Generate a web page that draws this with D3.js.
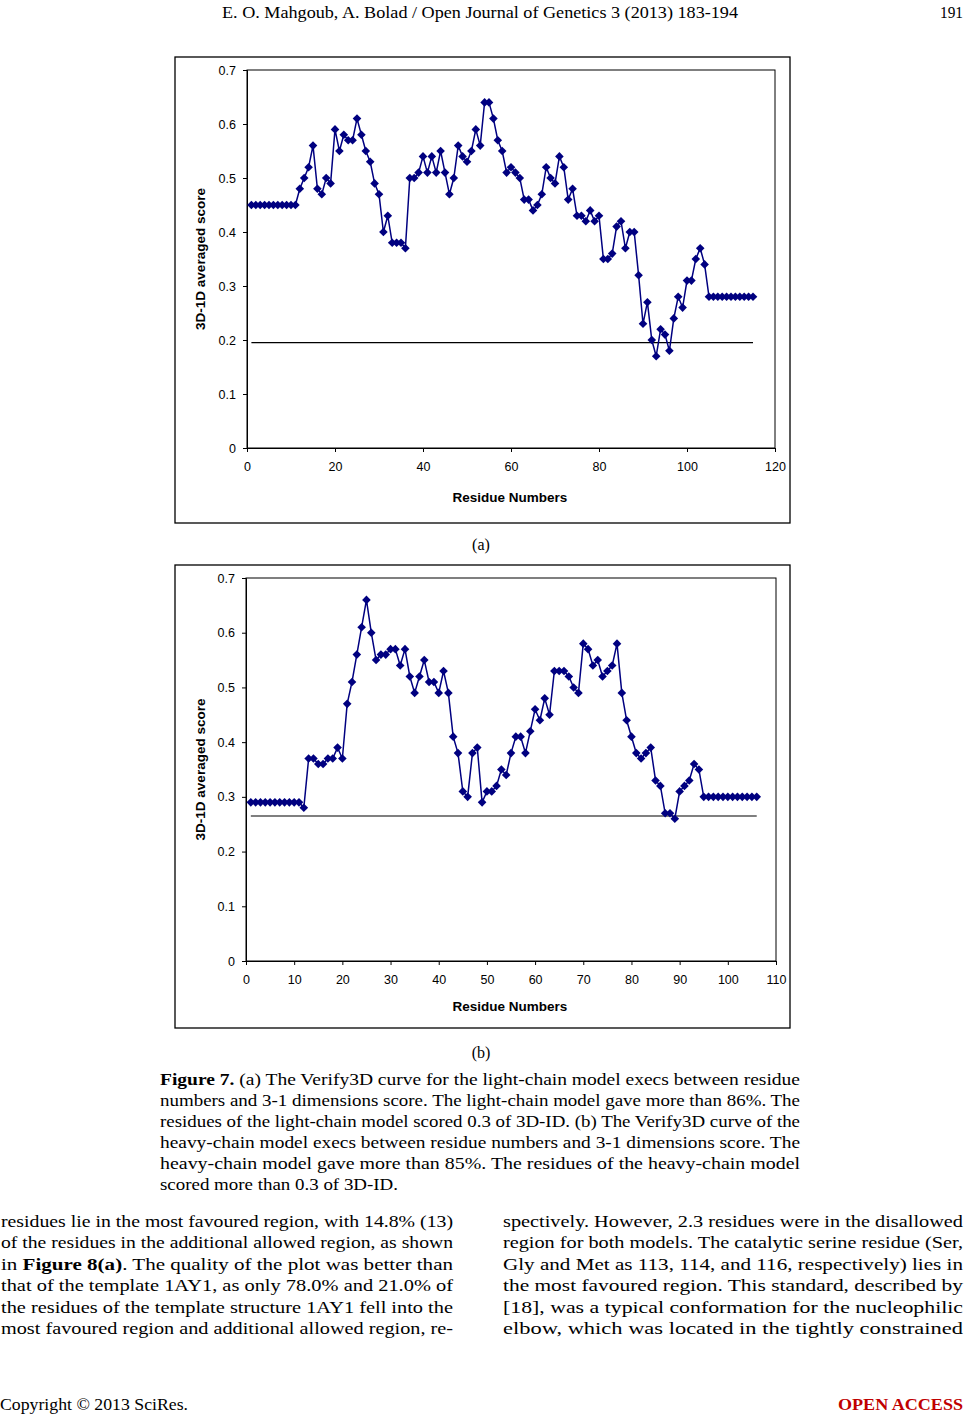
<!DOCTYPE html>
<html>
<head>
<meta charset="utf-8">
<script src="https://cdn.jsdelivr.net/npm/d3@7"></script>
<style>
  html, body { margin: 0; padding: 0; background: #fff; }
  svg { display: block; }
</style>
</head>
<body>
<script>
// ---------- DATA ----------
const scoresA = [
  0.45,0.45,0.45,0.45,0.45,0.45,0.45,0.45,0.45,0.45,0.45,
  0.48,0.50,0.52,0.56,0.48,0.47,0.50,0.49,0.59,
  0.55,0.58,0.57,0.57,0.61,0.58,0.55,0.53,0.49,0.47,
  0.40,0.43,0.38,0.38,0.38,0.37,0.50,0.50,0.51,0.54,
  0.51,0.54,0.51,0.55,0.51,0.47,0.50,0.56,0.54,0.53,
  0.55,0.59,0.56,0.64,0.64,0.61,0.57,0.55,0.51,0.52,
  0.51,0.50,0.46,0.46,0.44,0.45,0.47,0.52,0.50,0.49,
  0.54,0.52,0.46,0.48,0.43,0.43,0.42,0.44,0.42,0.43,
  0.35,0.35,0.36,0.41,0.42,0.37,0.40,0.40,0.32,0.23,
  0.27,0.20,0.17,0.22,0.21,0.18,0.24,0.28,0.26,0.31,
  0.31,0.35,0.37,0.34,
  0.28,0.28,0.28,0.28,0.28,0.28,0.28,0.28,0.28,0.28,0.28
];
const thresholdA = 0.195;
const xTicksA = [0,20,40,60,80,100,120];

const scoresB = [
  0.29,0.29,0.29,0.29,0.29,0.29,0.29,0.29,0.29,0.29,0.29,
  0.28,0.37,0.37,0.36,0.36,0.37,0.37,0.39,0.37,
  0.47,0.51,0.56,0.61,0.66,0.60,0.55,0.56,0.56,0.57,
  0.57,0.54,0.57,0.52,0.49,0.52,0.55,0.51,0.51,0.49,
  0.53,0.49,0.41,0.38,0.31,0.30,0.38,0.39,0.29,0.31,
  0.31,0.32,0.35,0.34,0.38,0.41,0.41,0.38,0.42,0.46,
  0.44,0.48,0.45,0.53,0.53,0.53,0.52,0.50,0.49,0.58,
  0.57,0.54,0.55,0.52,0.53,0.54,0.58,0.49,0.44,0.41,
  0.38,0.37,0.38,0.39,0.33,0.32,0.27,0.27,0.26,0.31,
  0.32,0.33,0.36,0.35,
  0.30,0.30,0.30,0.30,0.30,0.30,0.30,0.30,0.30,0.30,0.30,0.30
];
const thresholdB = 0.265;
const xTicksB = [0,10,20,30,40,50,60,70,80,90,100,110];

const yTicks = [0,0.1,0.2,0.3,0.4,0.5,0.6,0.7];
const yTitle = "3D-1D averaged score";
const xTitle = "Residue Numbers";

// ---------- PAGE ----------
const W = 965, H = 1414;
const svg = d3.select("body").append("svg").attr("width", W).attr("height", H);
svg.append("rect").attr("width", W).attr("height", H).attr("fill", "#fff");

const SERIF = "'Liberation Serif','Times New Roman',serif";
const SANS = "'Liberation Sans',Arial,sans-serif";

function textLine(x, y, width, segs, opts = {}) {
  const t = svg.append("text")
    .attr("x", x).attr("y", y)
    .attr("font-family", SERIF)
    .attr("font-size", opts.size || 16)
    .attr("fill", opts.fill || "#000")
    .attr("text-anchor", opts.anchor || "start")
    .attr("xml:space", "preserve");
  segs.forEach(s => {
    const arr = typeof s === "string" ? [s, false] : s;
    t.append("tspan").attr("font-weight", arr[1] ? "bold" : "normal").text(arr[0]);
  });
  if (width) t.attr("textLength", width).attr("lengthAdjust", "spacingAndGlyphs");
  return t;
}

// header
textLine(222, 18, 516, ["E. O. Mahgoub, A. Bolad / Open Journal of Genetics 3 (2013) 183-194"], {size: 17});
textLine(940, 18, 23, ["191"], {size: 17});

// ---------- CHART ----------
function drawChart(cfg) {
  const g = svg.append("g");
  g.append("rect")
    .attr("x", cfg.frame[0]).attr("y", cfg.frame[1])
    .attr("width", cfg.frame[2] - cfg.frame[0]).attr("height", cfg.frame[3] - cfg.frame[1])
    .attr("fill", "none").attr("stroke", "#000").attr("stroke-width", 1.3);

  const x = d3.scaleLinear().domain(cfg.xDomain).range([cfg.plot[0], cfg.plot[2]]);
  const y = d3.scaleLinear().domain([0, 0.7]).range([cfg.plot[3], cfg.plot[1]]);

  g.append("rect")
    .attr("x", cfg.plot[0]).attr("y", cfg.plot[1])
    .attr("width", cfg.plot[2] - cfg.plot[0]).attr("height", cfg.plot[3] - cfg.plot[1])
    .attr("fill", "none").attr("stroke", "#000").attr("stroke-width", 1);

  const yAxis = g.append("g").attr("transform", `translate(${cfg.plot[0]},0)`)
    .call(d3.axisLeft(y).tickValues(yTicks).tickSize(4).tickPadding(7)
      .tickFormat(d => d === 0 ? "0" : d3.format(".1f")(d)));
  const xAxis = g.append("g").attr("transform", `translate(0,${cfg.plot[3]})`)
    .call(d3.axisBottom(x).tickValues(cfg.xTicks).tickSize(4).tickPadding(10));
  [yAxis, xAxis].forEach(a => {
    a.select(".domain").attr("stroke", "#000");
    a.selectAll(".tick line").attr("stroke", "#000");
    a.selectAll("text").attr("font-family", SANS).attr("font-size", 12.5).attr("fill", "#000");
  });

  g.append("text")
    .attr("transform", `translate(${cfg.yTitleX},${(cfg.plot[1] + cfg.plot[3]) / 2}) rotate(-90)`)
    .attr("text-anchor", "middle").attr("dy", "0.35em")
    .attr("font-family", SANS).attr("font-size", 13.5).attr("font-weight", "bold")
    .text(yTitle);
  g.append("text")
    .attr("x", (cfg.plot[0] + cfg.plot[2]) / 2 - 1).attr("y", cfg.xTitleY)
    .attr("text-anchor", "middle")
    .attr("font-family", SANS).attr("font-size", 13.5).attr("font-weight", "bold")
    .text(xTitle);

  g.append("line")
    .attr("x1", x(1)).attr("x2", x(cfg.data.length))
    .attr("y1", y(cfg.threshold)).attr("y2", y(cfg.threshold))
    .attr("stroke", "#000").attr("stroke-width", 1.2);

  const pts = cfg.data.map((v, i) => [i + 1, v]);
  g.append("path")
    .attr("d", d3.line().x(d => x(d[0])).y(d => y(d[1]))(pts))
    .attr("fill", "none").attr("stroke", "#000080").attr("stroke-width", 1.5);
  const s = 4.3;
  g.selectAll("path.mk").data(pts).join("path")
    .attr("class", "mk")
    .attr("transform", d => `translate(${x(d[0])},${y(d[1])})`)
    .attr("d", `M0,${-s}L${s},0L0,${s}L${-s},0Z`)
    .attr("fill", "#000080");

  textLine(481, cfg.labelY, null, [cfg.label], {size: 16, anchor: "middle"});
}

drawChart({
  frame: [175, 57, 790, 523],
  plot: [247, 70, 775, 448],
  xDomain: [0, 120], xTicks: xTicksA,
  data: scoresA, threshold: thresholdA,
  yTitleX: 200, xTitleY: 502,
  label: "(a)", labelY: 550
});
drawChart({
  frame: [175, 565, 790, 1028],
  plot: [246, 578, 776, 961],
  xDomain: [0, 110], xTicks: xTicksB,
  data: scoresB, threshold: thresholdB,
  yTitleX: 200, xTitleY: 1011,
  label: "(b)", labelY: 1058
});

// ---------- CAPTION ----------
const caption = [
  [[["Figure 7.", true], " (a) The Verify3D curve for the light-chain model execs between residue"], 640],
  [["numbers and 3-1 dimensions score. The light-chain model gave more than 86%. The"], 640],
  [["residues of the light-chain model scored 0.3 of 3D-ID. (b) The Verify3D curve of the"], 640],
  [["heavy-chain model execs between residue numbers and 3-1 dimensions score. The"], 640],
  [["heavy-chain model gave more than 85%. The residues of the heavy-chain model"], 640],
  [["scored more than 0.3 of 3D-ID."], 238]
];
caption.forEach((l, i) => textLine(160, 1085 + i * 21, l[1], l[0], {size: 16}));

// ---------- BODY ----------
const leftCol = [
  ["residues lie in the most favoured region, with 14.8% (13)"],
  ["of the residues in the additional allowed region, as shown"],
  ["in ", ["Figure 8(a)", true], ". The quality of the plot was better than"],
  ["that of the template 1AY1, as only 78.0% and 21.0% of"],
  ["the residues of the template structure 1AY1 fell into the"],
  ["most favoured region and additional allowed region, re-"]
];
const rightCol = [
  ["spectively. However, 2.3 residues were in the disallowed"],
  ["region for both models. The catalytic serine residue (Ser,"],
  ["Gly and Met as 113, 114, and 116, respectively) lies in"],
  ["the most favoured region. This standard, described by"],
  ["[18], was a typical conformation for the nucleophilic"],
  ["elbow, which was located in the tightly constrained"]
];
leftCol.forEach((l, i) => textLine(1, 1227 + i * 21.4, 452, l, {size: 17}));
rightCol.forEach((l, i) => textLine(503, 1227 + i * 21.4, 460, l, {size: 17}));

textLine(0, 1410, 188, ["Copyright © 2013 SciRes."], {size: 17});
textLine(838, 1410, 125, [["OPEN ACCESS", true]], {size: 17, fill: "#c00000"});
</script>
</body>
</html>
